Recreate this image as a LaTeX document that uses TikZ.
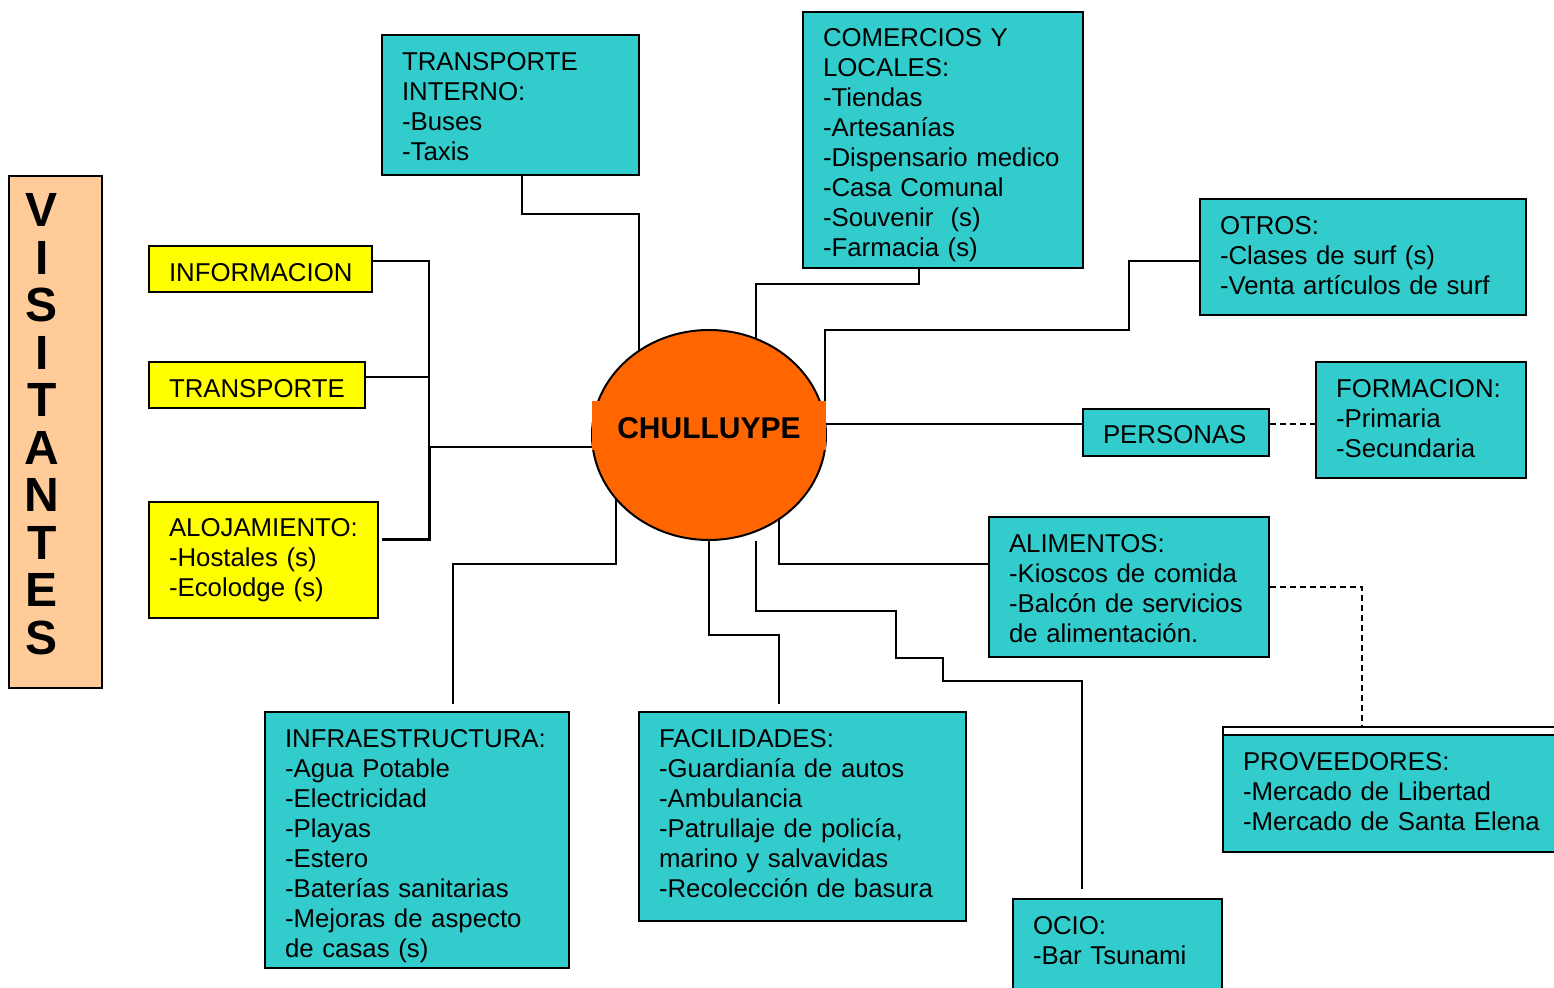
\documentclass[tikz,border=0pt]{standalone}
\usepackage{fontspec}
\setmainfont{Liberation Sans}
\usetikzlibrary{shapes.geometric,backgrounds}

\definecolor{turquesa}{HTML}{33CCCC}
\definecolor{amarillo}{HTML}{FFFF00}
\definecolor{naranja}{HTML}{FF6600}
\definecolor{durazno}{HTML}{FFCC99}

\newcommand{\altura}[1]{\rule{0pt}{#1}}
\newcommand{\fondo}[1]{\rule[-#1]{0pt}{#1}}

\tikzset{
  caja/.style={draw, line width=1pt, fill=turquesa, align=left, inner xsep=10pt, inner ysep=0pt, font=\fontsize{12.9}{15}\selectfont},
  cajaam/.style={caja, fill=amarillo},
  linea/.style={line width=1pt},
  punteada/.style={line width=1pt, dash pattern=on 3pt off 2pt},
}

\begin{document}
\begin{tikzpicture}[x=0.5pt, y=-0.5pt]
    \useasboundingbox (0,0) rectangle (1554,988);

    \node [draw, line width=1pt, fill=durazno, minimum width=46.5pt, minimum height=256pt](visit) at (55.5,432) {};
    \node [font=\bfseries\fontsize{24}{23.75}\selectfont, align=center](visitxt) at (42,424) {V\\I\\S\\I\\T\\A\\N\\T\\E\\S};

    \node [cajaam, text width=91.5pt, minimum height=23pt, text height=12.3pt, text depth=0pt](info) at (260.5,269) {INFORMACION};
    \node [cajaam, text width=88pt, minimum height=23pt, text height=12.3pt, text depth=0pt](transp) at (257,385) {TRANSPORTE};
    \node [cajaam, text width=94.5pt, minimum height=58pt](aloj) at (263.5,560) {ALOJAMIENTO:\\-Hostales (s)\\-Ecolodge (s)};

    \node [caja, text width=108.5pt, minimum height=70pt](trint) at (510.5,105) {\altura{10.9pt}TRANSPORTE\\INTERNO:\\-Buses\\-Taxis};
    \node [caja, text width=120pt, minimum height=128pt](comer) at (943,140) {\altura{14.4pt}COMERCIOS Y\\LOCALES:\\-Tiendas\\-Artesanías\\-Dispensario medico\\-Casa Comunal\\-Souvenir\ \ (s)\\-Farmacia (s)};
    \node [caja, text width=143pt, minimum height=58pt](otros) at (1363,257) {OTROS:\\-Clases de surf (s)\\-Venta artículos de surf\fondo{2pt}};
    \node [caja, text width=73pt, minimum height=23.5pt, text height=11.3pt, text depth=0pt](personas) at (1176,432.5) {PERSONAS};
    \node [caja, text width=85pt, minimum height=58pt](formac) at (1421,420) {FORMACION:\\-Primaria\\-Secundaria\fondo{1.5pt}};
    \node [caja, text width=120pt, minimum height=70pt](alim) at (1129,587) {\altura{10.9pt}ALIMENTOS:\\-Kioscos de comida\\-Balcón de servicios\\de alimentación.};
    \node [caja, text width=151pt, minimum height=58.5pt](prov) at (1394,793.5) {PROVEEDORES:\\-Mercado de Libertad\\-Mercado de Santa Elena\fondo{2pt}};
    \node [draw, line width=1pt, fill=white, minimum width=171pt, minimum height=4pt, inner sep=0pt, anchor=south](provtope) at ([yshift=-1pt]prov.north) {};
    \node [caja, text width=84.5pt, minimum height=46pt](ocio) at (1117.5,945) {OCIO:\\-Bar Tsunami\fondo{4.5pt}};
    \node [caja, text width=143.5pt, minimum height=104.5pt](facil) at (802.5,816.5) {FACILIDADES:\\-Guardianía de autos\\-Ambulancia\\-Patrullaje de policía,\\marino y salvavidas\\-Recolección de basura\fondo{3.5pt}};
    \node [caja, text width=132pt, minimum height=128pt](infra) at (417,840) {\altura{14.9pt}INFRAESTRUCTURA:\\-Agua Potable\\-Electricidad\\-Playas\\-Estero\\-Baterías sanitarias\\-Mejoras de aspecto\\de casas (s)};

    \node [ellipse, draw, line width=1pt, fill=naranja, minimum width=117pt, minimum height=105pt, inner sep=0pt](chul) at (709,435) {};
    \node [fill=naranja, minimum width=117pt, minimum height=24.5pt, text height=12.7pt, text depth=0pt, font=\bfseries\fontsize{15}{18}\selectfont](chultxt) at (709,425.5) {CHULLUYPE};

    \begin{scope}[on background layer]
    \coordinate (bus) at (429,447);
    \draw [linea] ([yshift=4pt]info.east) -| (bus);
    \draw [linea] ([yshift=4pt]transp.east) -| (bus);
    \draw [linea, line width=1.5pt] ([xshift=1.5pt,yshift=10pt]aloj.east) -| (bus);
    \draw [linea] (bus) -- (bus -| chul.center);

    \draw [linea] ([xshift=5.75pt]trint.south) -- ++(0,38) -| ([xshift=-35pt]chul.center);
    \draw [linea] ([xshift=-12pt]comer.south) -- ++(0,15) -| ([xshift=23.5pt]chul.center);
    \draw [linea] ([yshift=-2pt]otros.west) -- ++(-70,0) -- ++(0,69) -| ([xshift=58pt]chul.center);
    \draw [linea] ([yshift=4.25pt]personas.west) -- ([yshift=4.25pt]personas.west -| chul.center);
    \draw [punteada] ([yshift=4.25pt]personas.east) -- ([yshift=4.25pt]personas.east -| formac.west);
    \draw [linea] ([yshift=11.5pt]alim.west) -| ([xshift=35pt]chul.center);
    \draw [punteada] (alim.east) -| ([xshift=-16pt]provtope.north);

    \draw [linea] ([xshift=23.5pt]chul.south) -- ++(0,70) -- ++(140,0) -- ++(0,47) -- ++(47,0) -- ++(0,23) -| ([xshift=-17.75pt,yshift=4.5pt]ocio.north);
    \draw [linea] (chul.south) -- ++(0,94) -| ([xshift=-11.75pt,yshift=3.5pt]facil.north);
    \draw [linea] ([xshift=-46.5pt]chul.center) -- ++(0,129) -| ([xshift=18pt,yshift=3.5pt]infra.north);
    \end{scope}

\end{tikzpicture}
\end{document}
